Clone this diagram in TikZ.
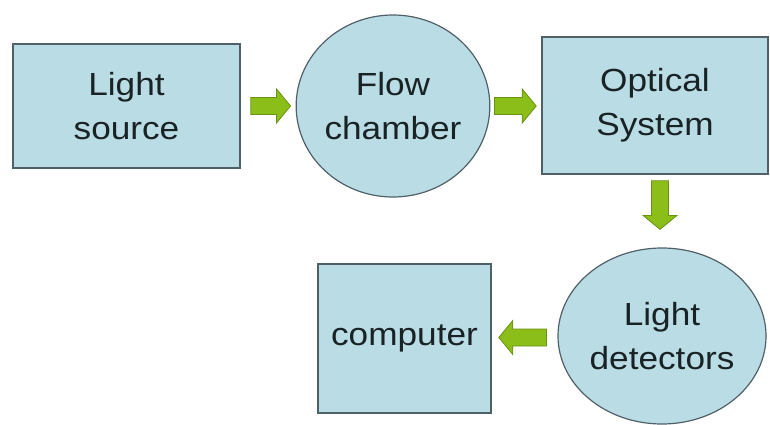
\documentclass[tikz,border=0pt]{standalone}
\usepackage{fontspec}
\setmainfont{Liberation Sans}[FakeStretch=1.1]
\usetikzlibrary{shapes.geometric,calc}
\definecolor{boxfill}{RGB}{186,220,228}
\definecolor{boxline}{RGB}{80,96,104}
\definecolor{arrfill}{RGB}{140,190,25}
\definecolor{arrline}{RGB}{105,145,20}
\definecolor{txt}{RGB}{25,35,38}
\begin{document}
\begin{tikzpicture}[x=1pt,y=-1pt,
  every node/.style={font=\fontsize{32}{44}\selectfont, text=txt, align=center, inner sep=0pt},
  box/.style={rectangle, draw=boxline, fill=boxfill, line width=1.6pt},
  oval/.style={ellipse, draw=boxline, fill=boxfill, line width=1.2pt},
  blockarrow/.style={draw=arrline, fill=arrfill, line width=0.8pt, line join=miter,
    to path={($(\tikztostart)!8.5pt!90:(\tikztotarget)$)
      -- ($($(\tikztotarget)!14pt!(\tikztostart)$)!8.5pt!-90:(\tikztostart)$)
      -- ($($(\tikztotarget)!14pt!(\tikztostart)$)!17pt!-90:(\tikztostart)$)
      -- (\tikztotarget)
      -- ($($(\tikztotarget)!14pt!(\tikztostart)$)!17pt!90:(\tikztostart)$)
      -- ($($(\tikztotarget)!14pt!(\tikztostart)$)!8.5pt!90:(\tikztostart)$)
      -- ($(\tikztostart)!8.5pt!-90:(\tikztotarget)$) -- cycle}}
]
\useasboundingbox (0,0) rectangle (770,425);
\node[box, minimum width=227pt, minimum height=124pt] (ls) at (126.5,106) {Light\\source};
\node[oval, minimum width=182pt, minimum height=182pt] (fc) at (393,106) {Flow\\chamber};
\node[box, minimum width=226pt, minimum height=137pt] (os) at (655,105.5) {Optical\\System};
\node[oval, minimum width=208pt, minimum height=176pt] (ld) at (662,336) {Light\\detectors};
\node[box, minimum width=173pt, minimum height=149pt] (comp) at (404.5,338.5) {computer};

\coordinate (a1s) at ([xshift=10pt]ls.east);
\coordinate (a1e) at ([xshift=-5pt]fc.west);
\coordinate (a2s) at ([xshift=4pt]fc.east);
\coordinate (a2e) at ([xshift=-5pt,yshift=-0.5pt]os.west);
\coordinate (a3s) at ([xshift=5pt,yshift=-6pt]os.south);
\coordinate (a3e) at ([xshift=-2pt,yshift=18pt]ld.north);
\coordinate (a4s) at ([xshift=-11pt,yshift=-1.5pt]ld.west);
\coordinate (a4e) at ([xshift=7pt,yshift=1pt]comp.east);

\draw[blockarrow] (a1s) to (a1e);
\draw[blockarrow] (a2s) to (a2e);
\draw[blockarrow] (a3s) to (a3e);
\draw[blockarrow] (a4s) to (a4e);
\end{tikzpicture}
\end{document}
